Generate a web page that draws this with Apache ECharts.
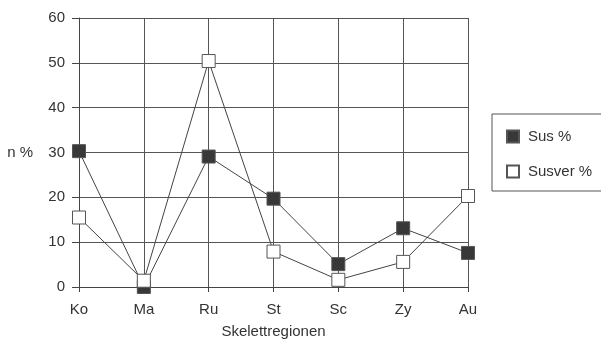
<!DOCTYPE html>
<html>
<head>
<meta charset="utf-8">
<script src="https://cdn.jsdelivr.net/npm/echarts@6/dist/echarts.min.js"></script>
<style>html,body{margin:0;padding:0;background:#fff}#c{width:601px;height:344px}</style>
</head>
<body>
<div id="c"></div>
<script>
var categories = ['Ko', 'Ma', 'Ru', 'St', 'Sc', 'Zy', 'Au'];
var susValues = [30.3, 0, 29.1, 19.7, 5.1, 13.1, 7.6];
var susverValues = [15.5, 1.4, 50.4, 7.9, 1.6, 5.6, 20.3];
var yTicks = [0, 10, 20, 30, 40, 50, 60];

var FONT = '"Liberation Sans", Arial, sans-serif';
var TXT = '#333';
var FS = 15;
var chart = echarts.init(document.getElementById('c'));
chart.setOption({
  animation: false,
  backgroundColor: '#fff',
  textStyle: { fontFamily: FONT },
  grid: { left: 79, right: 133, top: 18, bottom: 56 },
  legend: {
    orient: 'vertical',
    left: 492,
    top: 114,
    itemWidth: 12,
    itemHeight: 12,
    itemGap: 20,
    padding: [15, 11, 12, 14],
    borderColor: '#555',
    borderWidth: 1,
    textStyle: { fontFamily: FONT, fontSize: FS, color: TXT, padding: [0, 0, 0, 4] },
    data: [
      { name: 'Sus %', icon: 'rect' },
      { name: 'Susver %', icon: 'rect' }
    ]
  },
  xAxis: {
    type: 'category',
    data: categories,
    boundaryGap: false,
    name: 'Skelettregionen',
    nameLocation: 'middle',
    nameGap: 37,
    nameTextStyle: { fontFamily: FONT, fontSize: FS, color: TXT },
    axisLine: { show: true, lineStyle: { color: '#444', width: 1 } },
    axisTick: { show: true, length: 5, alignWithLabel: true, lineStyle: { color: '#444' } },
    axisLabel: { margin: 15, fontFamily: FONT, fontSize: FS, color: TXT },
    splitLine: { show: true, lineStyle: { color: '#555', width: 1 } }
  },
  yAxis: {
    type: 'value',
    min: yTicks[0],
    max: yTicks[yTicks.length - 1],
    interval: 10,
    name: 'n %',
    nameLocation: 'middle',
    nameRotate: 0,
    nameGap: 46,
    nameTextStyle: { fontFamily: FONT, fontSize: FS, color: TXT },
    axisLine: { show: true, lineStyle: { color: '#444', width: 1 } },
    axisTick: { show: true, length: 7, lineStyle: { color: '#444' } },
    axisLabel: { margin: 14, fontFamily: FONT, fontSize: FS, color: TXT },
    splitLine: { show: true, lineStyle: { color: '#555', width: 1 } }
  },
  series: [
    {
      name: 'Sus %',
      type: 'line',
      data: susValues,
      symbol: 'rect',
      symbolSize: 13,
      z: 3,
      lineStyle: { color: '#444', width: 1 },
      itemStyle: { color: '#383838', borderColor: '#555', borderWidth: 1 }
    },
    {
      name: 'Susver %',
      type: 'line',
      data: susverValues,
      symbol: 'rect',
      symbolSize: 13,
      z: 4,
      lineStyle: { color: '#444', width: 1 },
      itemStyle: { color: '#fff', borderColor: '#555', borderWidth: 1 }
    }
  ]
});
</script>
</body>
</html>
